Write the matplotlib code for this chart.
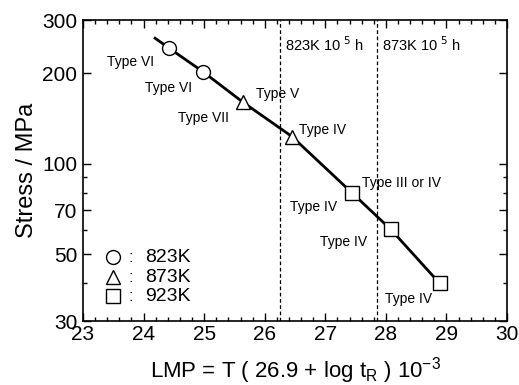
import numpy as np
import matplotlib.pyplot as plt
from matplotlib.ticker import FixedLocator, NullFormatter, MultipleLocator

plt.rcParams['font.family'] = ['Liberation Sans', 'DejaVu Sans']

# data points (LMP, stress)
lmp_823 = [24.42, 24.98]
stress_823 = [242, 202]
lmp_873 = [25.64, 26.45]
stress_873 = [160, 123]
lmp_923 = [27.44, 28.08, 28.89]
stress_923 = [80, 60.5, 40]

# master curve
line_lmp = [24.19, 24.42, 24.98, 25.64, 26.45, 27.44, 28.08, 28.89]
line_stress = [261, 242, 202, 160, 123, 80, 60.5, 40]

# 10^5 h lines
vline_lmp = [26.25, 27.85]
vline_labels = ['823K 10 $^{5}$ h', '873K 10 $^{5}$ h']

# annotations
type_labels = ['Type VI', 'Type VI', 'Type VII', 'Type V', 'Type IV',
               'Type III or IV', 'Type IV', 'Type IV', 'Type IV']
type_x = [23.40, 24.02, 24.57, 25.86, 26.57, 27.61, 26.42, 26.91, 27.99]
type_y = [218, 179, 142, 171, 129, 86, 72, 55, 35.4]

yticks = [30, 50, 70, 100, 200, 300]
yminor = [40, 60, 80, 90]

fig = plt.figure(figsize=(5.19, 3.85), dpi=100)
ax = fig.add_axes([0.160, 0.166, 0.817, 0.782])

ax.plot(line_lmp, line_stress, color='black', lw=2, zorder=2)
mk = dict(ls='none', mfc='white', mec='black', mew=1.0, ms=10, zorder=3)
ax.plot(lmp_823, stress_823, marker='o', **mk)
ax.plot(lmp_873, stress_873, marker='^', **mk)
ax.plot(lmp_923, stress_923, marker='s', **mk)

for xv, lab in zip(vline_lmp, vline_labels):
    ax.axvline(xv, color='black', ls=(0, (3, 2)), lw=0.9)
    ax.text(xv + 0.08, 248, lab, fontsize=10.5, ha='left', va='center')

for lab, xv, yv in zip(type_labels, type_x, type_y):
    ax.text(xv, yv, lab, fontsize=10, ha='left', va='center')

# legend drawn by hand
leg_marks = ['o', '^', 's']
leg_text = ['823K', '873K', '923K']
leg_y = [48.9, 41.9, 36.3]
for m, t, yv in zip(leg_marks, leg_text, leg_y):
    ax.plot([23.50], [yv], marker=m, ls='none', mfc='white', mec='black', mew=1.0, ms=10)
    ax.text(23.78, yv, ':', fontsize=12, ha='center', va='center')
    ax.text(24.02, yv, t, fontsize=14, ha='left', va='center')

ax.set_yscale('log')
ax.set_xlim(23, 30)
ax.set_ylim(30, 300)
ax.yaxis.set_major_locator(FixedLocator(yticks))
ax.yaxis.set_minor_locator(FixedLocator(yminor))
ax.yaxis.set_minor_formatter(NullFormatter())
ax.set_yticklabels([str(v) for v in yticks])
ax.xaxis.set_major_locator(MultipleLocator(1))
ax.xaxis.set_minor_locator(MultipleLocator(0.2))

ax.tick_params(which='both', direction='in', top=True, right=True, labelsize=15, width=1)
ax.tick_params(which='major', length=6)
ax.tick_params(which='minor', length=3)
ax.tick_params(axis='x', pad=3)
ax.tick_params(axis='y', pad=4)
for s in ax.spines.values():
    s.set_linewidth(1.2)

ax.set_xlabel('LMP = T ( 26.9 + log t$_\\mathregular{R}$ ) 10$^\\mathregular{-3}$', fontsize=16, labelpad=8)
ax.set_ylabel('Stress / MPa', fontsize=17, labelpad=3)

fig.savefig('out.png', dpi=100)
